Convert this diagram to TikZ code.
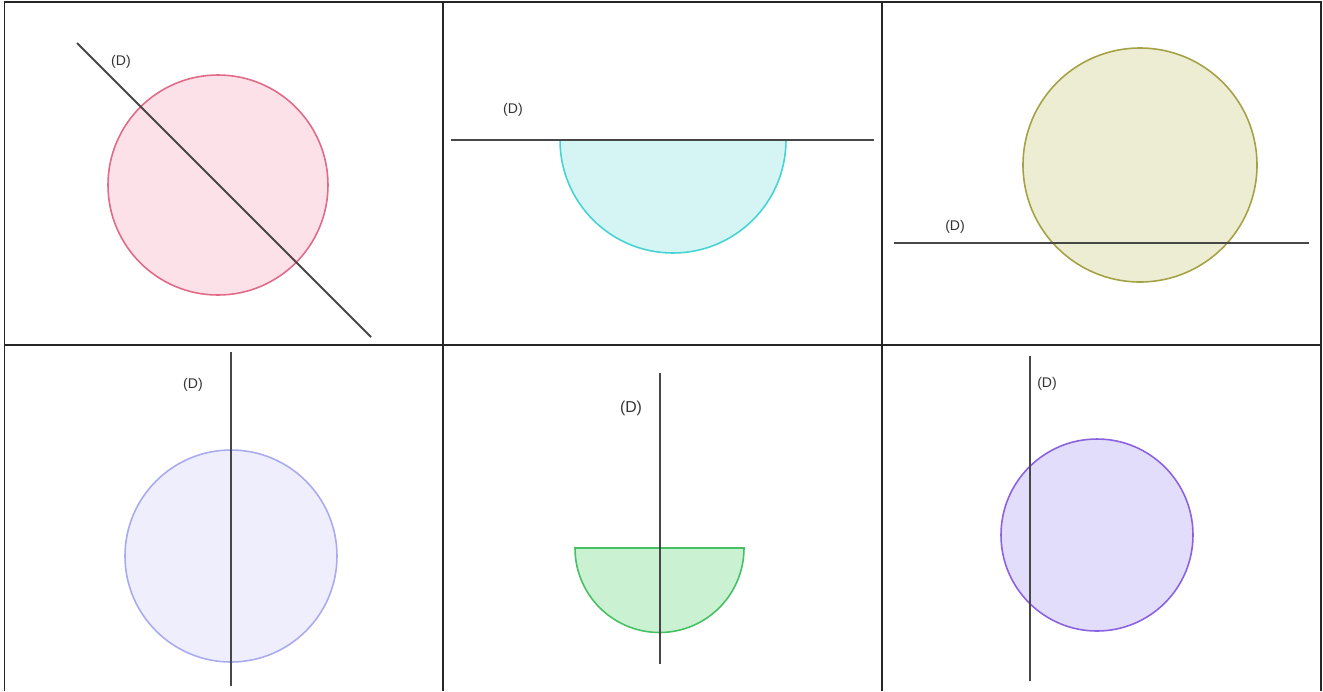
\documentclass[tikz,border=0pt]{standalone}
\usepackage{fontspec}
\setmainfont{Liberation Sans}
\begin{document}
\begin{tikzpicture}[x=0.02cm,y=-0.02cm,
  grid/.style={line width=1.1pt,black!85},
  dline/.style={line width=1.2pt,black!72},
  figshape/.style={line width=0.9pt},
  lbl/.style={font=\fontsize{8}{9.5}\selectfont,inner sep=0pt,text=black!80}]
\useasboundingbox (0,0) rectangle (1323,691);
\definecolor{pinkF}{HTML}{FDE1E8}\definecolor{pinkD}{HTML}{E06A88}
\definecolor{cyanF}{HTML}{D5F5F5}\definecolor{cyanD}{HTML}{45D3D3}
\definecolor{oliveF}{HTML}{EDEDD4}\definecolor{oliveD}{HTML}{A4A244}
\definecolor{lavF}{HTML}{EEEEFC}\definecolor{lavD}{HTML}{AAAAEE}
\definecolor{greenF}{HTML}{CBF1D3}\definecolor{greenD}{HTML}{45C063}
\definecolor{purF}{HTML}{E3DDFC}\definecolor{purD}{HTML}{8A62E0}
% grid
\draw[grid] (4.5,691) -- (4.5,2) -- (1321,2) -- (1321,691);
\draw[grid] (4.5,345) -- (1321,345);
\draw[grid] (443,2) -- (443,691);
\draw[grid] (882,2) -- (882,691);
% cell 1
\filldraw[figshape,fill=pinkF,draw=pinkD] (218,185) circle (110);
\coordinate (a1) at (77,43); \coordinate (b1) at (371,337);
\draw[dline] (a1) -- (b1);
\node[lbl] (l1) at (121,62) {(D)};
% cell 2
\filldraw[figshape,fill=cyanF,draw=cyanD] (560,140) arc[start angle=180,end angle=0,radius=113];
\coordinate (a2) at (451,140); \coordinate (b2) at (874,140);
\draw[dline] (a2) -- (b2);
\node[lbl] (l2) at (513,110) {(D)};
% cell 3
\filldraw[figshape,fill=oliveF,draw=oliveD] (1140,165) circle (117);
\coordinate (a3) at (894,243); \coordinate (b3) at (1309,243);
\draw[dline] (a3) -- (b3);
\node[lbl] (l3) at (955,227) {(D)};
% cell 4
\filldraw[figshape,fill=lavF,draw=lavD] (231,556) circle (106);
\coordinate (a4) at (231,352); \coordinate (b4) at (231,686);
\draw[dline] (a4) -- (b4);
\node[lbl] (l4) at (193,385) {(D)};
% cell 5
\filldraw[figshape,fill=greenF,draw=greenD] (575,548) arc[start angle=180,end angle=0,radius=84.5] -- cycle;
\coordinate (a5) at (660,373); \coordinate (b5) at (660,664);
\draw[dline] (a5) -- (b5);
\node[lbl,font=\fontsize{9}{11}\selectfont] (l5) at (631,408) {(D)};
% cell 6
\filldraw[figshape,fill=purF,draw=purD] (1097,535) circle (96);
\coordinate (a6) at (1030,356); \coordinate (b6) at (1030,681);
\draw[dline] (a6) -- (b6);
\node[lbl] (l6) at (1047,384) {(D)};
\end{tikzpicture}
\end{document}
